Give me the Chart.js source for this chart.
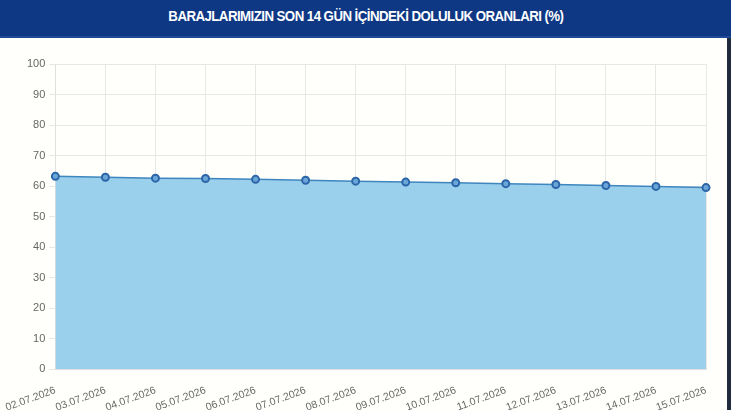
<!DOCTYPE html>
<html lang="tr">
<head>
<meta charset="utf-8">
<script src="https://cdn.jsdelivr.net/npm/chart.js@4/dist/chart.umd.min.js"></script>
<style>
  html, body { margin: 0; padding: 0; background: #fffffb; }
  body { width: 731px; height: 410px; position: relative; overflow: hidden; }
  .baslik {
    position: absolute; left: 0; top: 0; width: 731px; height: 38px;
    background: #0e3884;
    border-bottom: 2px solid #1c4a96;
    box-sizing: border-box;
    color: #fff; font-family: "Liberation Sans", Arial, sans-serif;
    font-weight: bold; font-size: 14.5px; line-height: 33px; text-align: center;
    letter-spacing: -0.6px;
  }
  .baslik span { display: inline-block; transform: scaleX(0.915); }
  .kenar { position: absolute; right: 0; top: 38px; width: 4px; height: 372px; background: #1e2c3e; }
  .grafik { position: absolute; left: 0; top: 40px; width: 727px; height: 375px; }
</style>
</head>
<body>
<div class="baslik"><span>BARAJLARIMIZIN SON 14 GÜN İÇİNDEKİ DOLULUK ORANLARI (%)</span></div>
<div class="grafik"><canvas id="doluluk"></canvas></div>
<div class="kenar"></div>
<script>
// tarihler ve doluluk oranları (%)
const tarihler = [
  "02.07.2026", "03.07.2026", "04.07.2026", "05.07.2026", "06.07.2026",
  "07.07.2026", "08.07.2026", "09.07.2026", "10.07.2026", "11.07.2026",
  "12.07.2026", "13.07.2026", "14.07.2026", "15.07.2026",
];
const oranlar = [
  63.2, 62.9, 62.6, 62.5, 62.2, 61.9, 61.6,
  61.3, 61.1, 60.8, 60.5, 60.2, 59.9, 59.5,
];

const yYazi = { family: "Arial, 'Liberation Sans', sans-serif", size: 11 };
const xYazi = { family: "Arial, 'Liberation Sans', sans-serif", size: 10.5 };

new Chart(document.getElementById("doluluk"), {
  type: "line",
  data: {
    labels: tarihler,
    datasets: [{
      label: "Doluluk",
      data: oranlar,
      fill: true,
      backgroundColor: "#9ad0ec",
      borderColor: "#3f86bf",
      borderWidth: 1.5,
      tension: 0,
      pointRadius: 3.5,
      pointBorderWidth: 2,
      pointBorderColor: "#2c66a8",
      pointBackgroundColor: "#6aa6d8",
    }],
  },
  options: {
    responsive: true,
    maintainAspectRatio: false,
    animation: false,
    layout: { padding: { top: 24, right: 21, left: 23, bottom: 0 } },
    plugins: { legend: { display: false }, tooltip: { enabled: false } },
    scales: {
      y: {
        min: 0,
        max: 100,
        ticks: { stepSize: 10, color: "#666", font: yYazi, padding: 4 },
        grid: { color: "#e7e7e7", tickLength: 6 },
        border: { color: "#e0e0e0" },
      },
      x: {
        offset: false,
        // tarih yazıları eksenden biraz aşağıda; çentikler görünmesin
        ticks: { color: "#666", font: xYazi, minRotation: 20, maxRotation: 20, padding: 1 },
        grid: { color: "#e7e7e7", tickLength: 14, tickColor: "rgba(0,0,0,0)" },
        border: { color: "#e0e0e0" },
      },
    },
  },
});
</script>
</body>
</html>
